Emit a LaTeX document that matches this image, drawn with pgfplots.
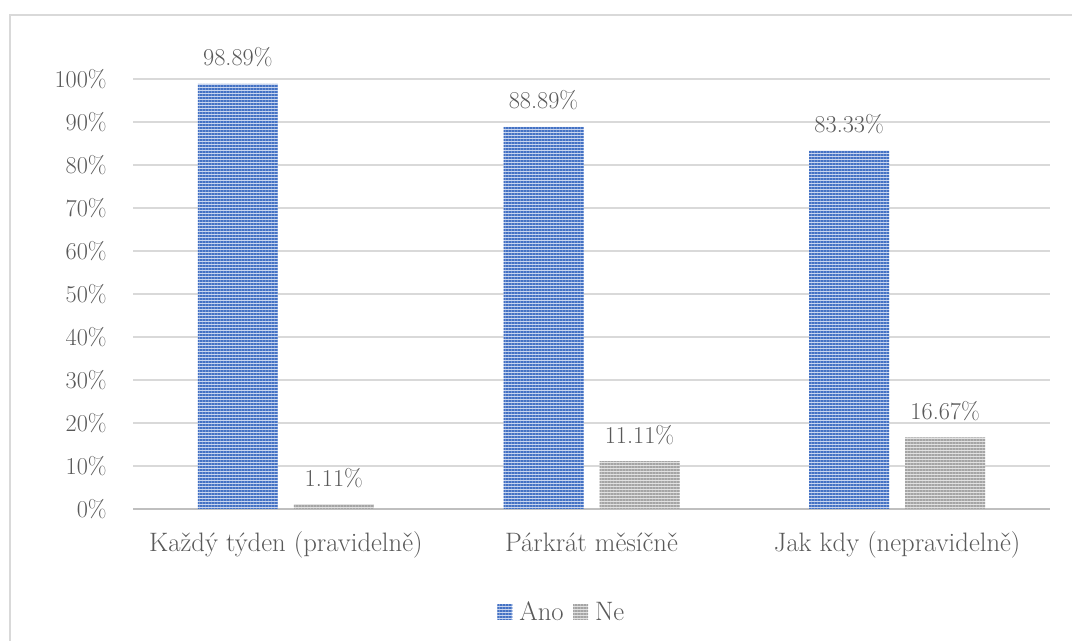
\documentclass[border=0pt]{standalone}
\usepackage{fontspec}
\setmainfont{Latin Modern Roman}
\usepackage{pgfplots}
\pgfplotsset{compat=1.18}
\usetikzlibrary{patterns.meta}
\definecolor{txt}{HTML}{595959}
\definecolor{bluel}{HTML}{4472C4}
\definecolor{bluebg}{HTML}{C9D6EF}
\definecolor{greyl}{HTML}{A5A5A5}
\definecolor{greybg}{HTML}{E2E2E2}
\definecolor{gridc}{HTML}{D9D9D9}
\definecolor{basec}{HTML}{BFBFBF}
\newcommand{\numfont}{\fontsize{18.2}{21.8}\selectfont}
\newcommand{\lblfont}{\fontsize{20}{24}\selectfont}
\begin{document}
\begin{tikzpicture}
\useasboundingbox (0pt,0pt) rectangle (804pt,480.75pt);
\draw[gridc, line width=1.2pt] (7.5pt,0pt) -- (7.5pt,469.5pt) -- (804pt,469.5pt);
\begin{axis}[
  at={(99.75pt,99pt)}, anchor=south west,
  scale only axis, width=687.75pt, height=322.5pt,
  xmin=-0.5, xmax=2.5, ymin=0, ymax=100,
  clip=false,
  ybar, bar width=60pt,
  axis line style={draw=none},
  major tick length=0pt,
  xtick={0,1,2},
  xticklabels={Každý týden (pravidelně), Párkrát měsíčně, Jak kdy (nepravidelně)},
  ytick={0,10,...,100},
  yticklabel={\pgfmathprintnumber{\tick}\%},
  /pgf/number format/assume math mode=true,
  ymajorgrids, grid style={gridc, line width=1.1pt},
  extra y ticks={0}, extra y tick labels={},
  extra y tick style={grid style={basec, line width=2.2pt}},
  tick label style={text=txt},
  yticklabel style={font=\numfont, anchor=east, inner xsep=0pt, xshift=-19.5pt},
  xticklabel style={font=\lblfont, anchor=base, yshift=-32.25pt},
  nodes near coords={\pgfmathprintnumber[fixed,precision=2,fixed zerofill]{\pgfplotspointmeta}\%},
  point meta=y,
  every node near coord/.append style={anchor=base, yshift=13.5pt, font=\numfont, text=txt},
  legend style={at={(0.468,-0.2395)}, anchor=center, draw=none, fill=none,
    legend columns=2, font=\lblfont, text=txt,
    /tikz/every even column/.append style={column sep=5pt},
    inner sep=0pt},
  legend image code/.code={\path[#1] (0pt,-5.6pt) rectangle (11.25pt,5.6pt); \path (14.5pt,0pt);},
]
\addplot[bar shift=-36pt, fill=bluebg, draw=none,
  postaction={pattern={Lines[angle=0, distance=2.25pt, line width=1.1pt]}, pattern color=bluel}]
  coordinates {(0,98.89) (1,88.89) (2,83.33)};
\addlegendentry{Ano}
\addplot[bar shift=36pt, fill=greybg, draw=none,
  postaction={pattern={Lines[angle=0, distance=2.25pt, line width=1.1pt]}, pattern color=greyl}]
  coordinates {(0,1.11) (1,11.11) (2,16.67)};
\addlegendentry{Ne}
\end{axis}
\end{tikzpicture}
\end{document}
